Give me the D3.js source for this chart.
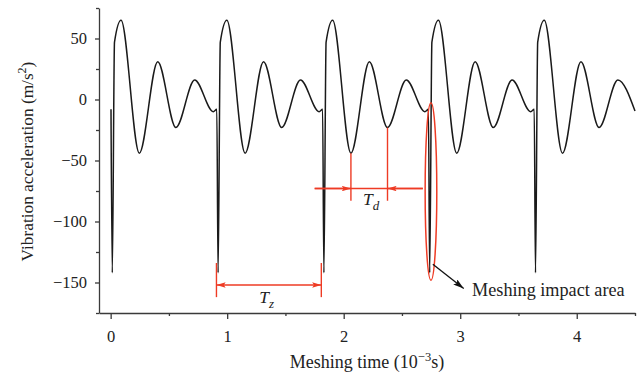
<!DOCTYPE html>
<html>
<head>
<meta charset="utf-8">
<script src="https://cdn.jsdelivr.net/npm/d3@7"></script>
<style>
  body { margin: 0; background: #fff; }
  svg { display: block; }
  svg text { font-family: "Liberation Serif", "Times New Roman", "DejaVu Serif", serif; }
</style>
</head>
<body>
<svg id="chart" width="644" height="374"></svg>
<script>
// meshing time (10^-3 s) and vibration acceleration (m/s^2)
var timeVals = [
  0.003, 0.014, 0.033, 0.089, 0.246, 0.404, 0.560, 0.721, 0.881,
  0.911, 0.922, 0.941, 0.997, 1.154, 1.312, 1.468, 1.629, 1.789,
  1.819, 1.830, 1.849, 1.905, 2.062, 2.220, 2.376, 2.537, 2.697,
  2.727, 2.738, 2.757, 2.813, 2.970, 3.128, 3.284, 3.445, 3.605,
  3.635, 3.646, 3.665, 3.721, 3.878, 4.036, 4.192, 4.353, 4.500
]
var accVals = [
  -8, -142, 47, 65, -44, 31, -23, 16, -10,
  -8, -142, 47, 65, -44, 31, -23, 16, -10,
  -8, -142, 47, 65, -44, 31, -23, 16, -10,
  -8, -142, 47, 65, -44, 31, -23, 16, -10,
  -8, -142, 47, 65, -44, 31, -23, 16, -9.5
]

var xMajor = [0, 1, 2, 3, 4]
var xMinor = [0.5, 1.5, 2.5, 3.5, 4.5]
var yMajor = [-150, -100, -50, 0, 50]
var yMinor = [-175, -125, -75, -25, 25, 75]

// annotations (data units)
var tzTimes = [0.908, 1.808]
var tzLevel = -152
var tzSpan = [-134, -162]
var tdTimes = [2.062, 2.376]
var tdTops = [-44, -23]
var tdLevel = -73
var tdBottom = -83
var tdExtent = [1.751, 2.679]
var impactCenter = [2.749, -75.4]
var impactRadius = [0.05, 72.7]
var impactArrow = [[2.765, -135], [3.03, -155]]
var impactLabel = "Meshing impact area"

var dimensions = ({
  width: 644,
  height: 374,
  margin: { top: 8, bottom: 61, right: 9, left: 99 }
})

var red = "#ee3b24"
var axisColor = "#3a3a3a"
var serif = "'Liberation Serif', 'Times New Roman', serif"

var svg = d3.select("#chart")

var xScale = d3.scaleLinear()
  .domain([-0.1, 4.5])
  .range([dimensions.margin.left, dimensions.width - dimensions.margin.right])

var yScale = d3.scaleLinear()
  .domain([-175, 75])
  .range([dimensions.height - dimensions.margin.bottom, dimensions.margin.top])

var defs = svg.append("defs")
defs.append("marker")
  .attr("id", "redHead")
  .attr("viewBox", "0 0 10 6")
  .attr("refX", 10).attr("refY", 3)
  .attr("markerUnits", "userSpaceOnUse")
  .attr("markerWidth", 15).attr("markerHeight", 5.5)
  .attr("orient", "auto-start-reverse")
  .append("path").attr("d", "M0,0 L10,3 L0,6 L2,3 Z").attr("fill", red)
defs.append("marker")
  .attr("id", "blackHead")
  .attr("viewBox", "0 0 10 6")
  .attr("refX", 10).attr("refY", 3)
  .attr("markerUnits", "userSpaceOnUse")
  .attr("markerWidth", 11).attr("markerHeight", 6.5)
  .attr("orient", "auto")
  .append("path").attr("d", "M0,0 L10,3 L0,6 L2,3 Z").attr("fill", "#111")

// axes
var yBottom = dimensions.height - dimensions.margin.bottom
var xAxisG = svg.append("g").attr("transform", "translate(0," + yBottom + ")")
xAxisG.call(d3.axisBottom(xScale).tickValues(xMajor).tickFormat(d3.format("d"))
  .tickSize(6).tickSizeOuter(0).tickPadding(11))
xAxisG.append("g").call(d3.axisBottom(xScale).tickValues(xMinor).tickSize(3).tickSizeOuter(0).tickFormat(""))
  .select(".domain").remove()

var yAxisG = svg.append("g").attr("transform", "translate(" + dimensions.margin.left + ",0)")
yAxisG.call(d3.axisLeft(yScale).tickValues(yMajor).tickFormat(d3.format("d"))
  .tickSize(4).tickSizeOuter(0).tickPadding(8))
yAxisG.append("g").call(d3.axisLeft(yScale).tickValues(yMinor).tickSize(3).tickSizeOuter(0).tickFormat(""))
  .select(".domain").remove()

svg.selectAll(".domain, .tick line")
  .attr("stroke", axisColor)
  .attr("stroke-width", 1.3)
svg.selectAll("g").attr("font-family", serif)
svg.selectAll(".tick text")
  .attr("fill", "#222")
  .attr("font-size", 16.5)

// signal
var points = timeVals.map(function (t, i) { return [t, accVals[i]] })
var line = d3.line()
  .x(function (d) { return xScale(d[0]) })
  .y(function (d) { return yScale(d[1]) })
  .curve(d3.curveMonotoneX)

svg.append("path")
  .datum(points)
  .attr("d", line)
  .attr("fill", "none")
  .attr("stroke", "#1a1a1a")
  .attr("stroke-width", 1.5)
  .attr("stroke-linejoin", "round")

// T_z annotation
var ann = svg.append("g").attr("stroke", red).attr("stroke-width", 1.4).attr("fill", "none")
tzTimes.forEach(function (t) {
  ann.append("line")
    .attr("x1", xScale(t)).attr("x2", xScale(t))
    .attr("y1", yScale(tzSpan[0])).attr("y2", yScale(tzSpan[1]))
})
ann.append("line")
  .attr("x1", xScale(tzTimes[0])).attr("x2", xScale(tzTimes[1]))
  .attr("y1", yScale(tzLevel)).attr("y2", yScale(tzLevel))
  .attr("marker-start", "url(#redHead)")
  .attr("marker-end", "url(#redHead)")

// T_d annotation
tdTimes.forEach(function (t, i) {
  ann.append("line")
    .attr("x1", xScale(t)).attr("x2", xScale(t))
    .attr("y1", yScale(tdTops[i])).attr("y2", yScale(tdBottom))
})
ann.append("line")
  .attr("x1", xScale(tdExtent[0])).attr("x2", xScale(tdExtent[1]))
  .attr("y1", yScale(tdLevel)).attr("y2", yScale(tdLevel))
ann.append("line")
  .attr("x1", xScale(tdExtent[0])).attr("x2", xScale(tdTimes[0]))
  .attr("y1", yScale(tdLevel)).attr("y2", yScale(tdLevel))
  .attr("marker-end", "url(#redHead)")
ann.append("line")
  .attr("x1", xScale(tdExtent[1])).attr("x2", xScale(tdTimes[1]))
  .attr("y1", yScale(tdLevel)).attr("y2", yScale(tdLevel))
  .attr("marker-end", "url(#redHead)")

// impact ellipse
ann.append("ellipse")
  .attr("cx", xScale(impactCenter[0]))
  .attr("cy", yScale(impactCenter[1]))
  .attr("rx", xScale(impactRadius[0]) - xScale(0))
  .attr("ry", yScale(0) - yScale(impactRadius[1]))
  .attr("stroke-width", 1.5)

svg.append("line")
  .attr("x1", xScale(impactArrow[0][0])).attr("y1", yScale(impactArrow[0][1]))
  .attr("x2", xScale(impactArrow[1][0])).attr("y2", yScale(impactArrow[1][1]))
  .attr("stroke", "#111").attr("stroke-width", 1.3)
  .attr("marker-end", "url(#blackHead)")

svg.append("text")
  .attr("x", xScale(3.102)).attr("y", yScale(-161.2))
  .attr("fill", "#222").attr("font-size", 18.2)
  .text(impactLabel)

// period labels
function periodLabel(x, y, sub) {
  var t = svg.append("text").attr("x", x).attr("y", y)
    .attr("fill", "#222").attr("font-size", 17.5).attr("font-style", "italic")
  t.append("tspan").text("T")
  t.append("tspan").attr("dy", 5).attr("font-size", 13).text(sub)
}
periodLabel(xScale(1.275), yScale(-166.5), "z")
periodLabel(xScale(2.165), yScale(-86.5), "d")

// axis titles
var xTitle = svg.append("text")
  .attr("x", (xScale.range()[0] + xScale.range()[1]) / 2)
  .attr("y", 368)
  .attr("text-anchor", "middle")
  .attr("fill", "#222").attr("font-size", 18)
xTitle.append("tspan").text("Meshing time (10")
xTitle.append("tspan").attr("dy", -7).attr("font-size", 12.5).text("\u22123")
xTitle.append("tspan").attr("dy", 7).text("s)")

var yTitle = svg.append("text")
  .attr("transform", "translate(33,161.5) rotate(-90)")
  .attr("text-anchor", "middle")
  .attr("fill", "#222").attr("font-size", 17.3)
yTitle.append("tspan").text("Vibration acceleration (m/s")
yTitle.append("tspan").attr("dy", -7).attr("font-size", 12).text("2")
yTitle.append("tspan").attr("dy", 7).text(")")

svg.selectAll("text").attr("font-family", serif)
</script>
</body>
</html>
